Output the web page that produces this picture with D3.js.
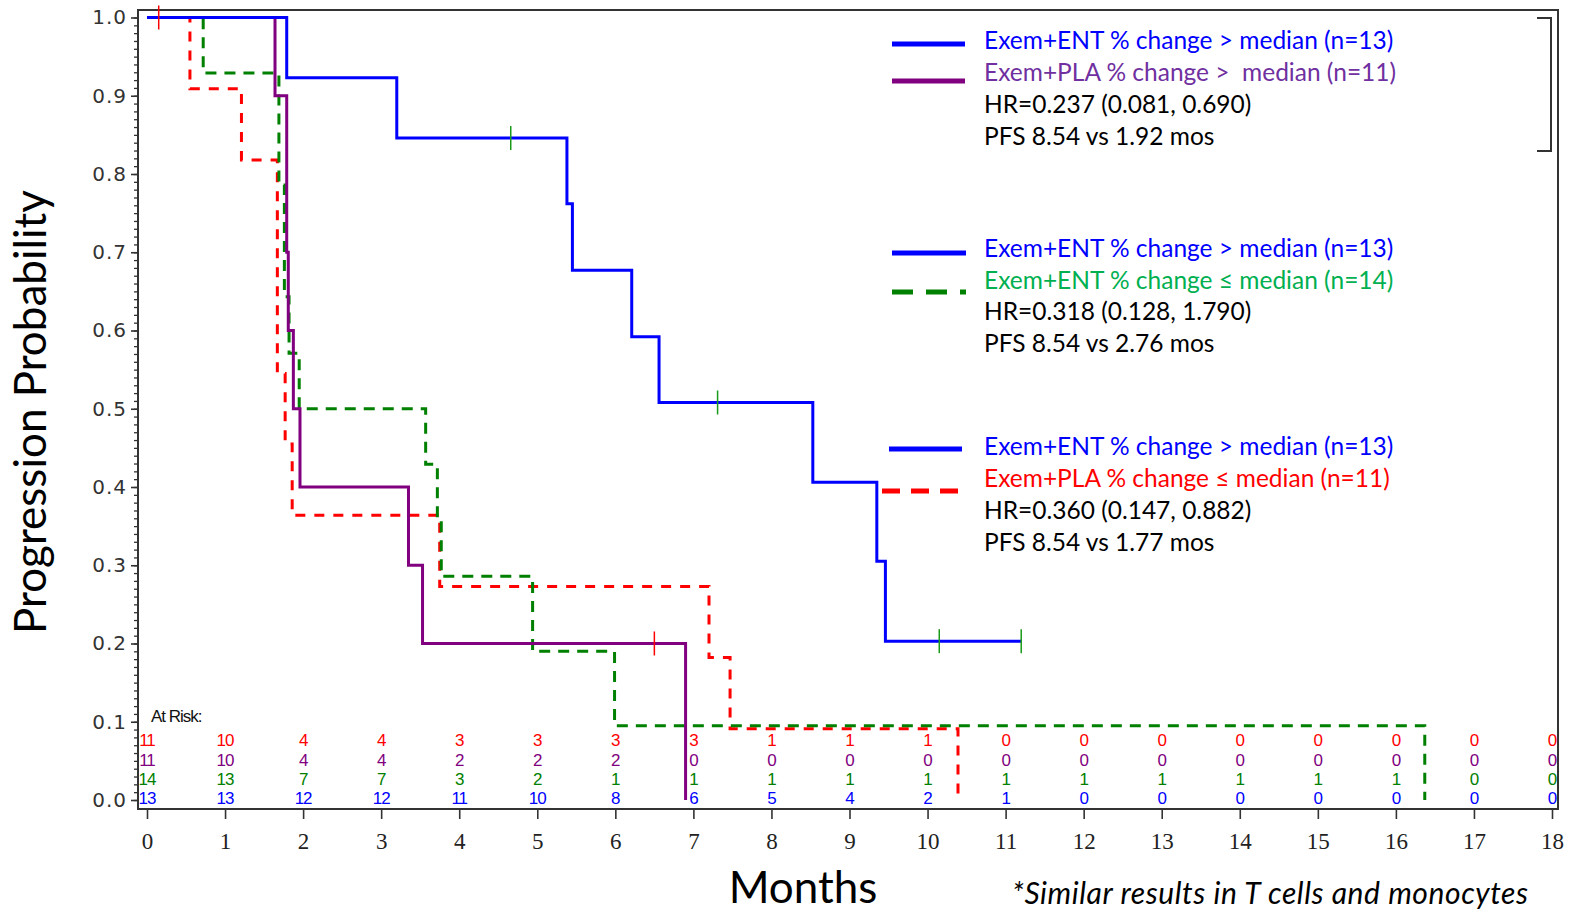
<!DOCTYPE html>
<html>
<head>
<meta charset="utf-8">
<script src="https://cdn.jsdelivr.net/npm/d3@7"></script>
<style>
  body { margin: 0; background: #fff; }
  .chart { width: 1573px; height: 911px; }
</style>
</head>
<body>
<div class="chart"></div>
<script>
// step curves (months, probability)
var entHighTimes = [0, 1.79, 3.2, 5.38, 5.45, 6.21, 6.56, 8.53, 9.35, 9.46, 11.2];
var entHighProbs = [1, 0.923, 0.846, 0.762, 0.677, 0.592, 0.508, 0.406, 0.305, 0.203, 0.203];

var plaHighTimes = [0, 1.64, 1.79, 1.81, 1.875, 1.96, 3.35, 3.53, 6.9];
var plaHighProbs = [1, 0.9, 0.7, 0.6, 0.5, 0.4, 0.3, 0.2, 0];

var entLowTimes = [0, 0.72, 1.69, 1.76, 1.82, 1.95, 3.57, 3.72, 3.77, 4.94, 5.99, 16.37];
var entLowProbs = [1, 0.929, 0.786, 0.643, 0.571, 0.5, 0.429, 0.357, 0.286, 0.19, 0.095, 0];

var plaLowTimes = [0, 0.55, 1.21, 1.67, 1.77, 1.86, 3.75, 7.2, 7.47, 10.39];
var plaLowProbs = [1, 0.909, 0.818, 0.545, 0.455, 0.364, 0.273, 0.182, 0.091, 0];

// censor marks
var entCensorTimes = [4.66, 7.31, 10.15, 11.2];
var entCensorProbs = [0.846, 0.508, 0.203, 0.203];
var plaCensorTimes = [0.15, 6.5];
var plaCensorProbs = [1, 0.2];

// numbers at risk, months 0..18
var riskPlaLow  = [11, 10, 4, 4, 3, 3, 3, 3, 1, 1, 1, 0, 0, 0, 0, 0, 0, 0, 0];
var riskPlaHigh = [11, 10, 4, 4, 2, 2, 2, 0, 0, 0, 0, 0, 0, 0, 0, 0, 0, 0, 0];
var riskEntLow  = [14, 13, 7, 7, 3, 2, 1, 1, 1, 1, 1, 1, 1, 1, 1, 1, 1, 0, 0];
var riskEntHigh = [13, 13, 12, 12, 11, 10, 8, 6, 5, 4, 2, 1, 0, 0, 0, 0, 0, 0, 0];

var xTicks = d3.range(0, 19);
var yTicks = [0, 0.1, 0.2, 0.3, 0.4, 0.5, 0.6, 0.7, 0.8, 0.9, 1.0];

var legendLabels = [
  "Exem+ENT % change > median (n=13)",
  "Exem+PLA % change >  median (n=11)",
  "HR=0.237 (0.081, 0.690)",
  "PFS 8.54 vs 1.92 mos",
  "Exem+ENT % change > median (n=13)",
  "Exem+ENT % change \u2264 median (n=14)",
  "HR=0.318 (0.128, 1.790)",
  "PFS 8.54 vs 2.76 mos",
  "Exem+ENT % change > median (n=13)",
  "Exem+PLA % change \u2264 median (n=11)",
  "HR=0.360 (0.147, 0.882)",
  "PFS 8.54 vs 1.77 mos"
];

var blue = "#0000ff", purple = "#800080", green = "#008000", red = "#ff0000";

var svg = d3.select(".chart")
  .append("svg")
  .attr("width", 1573)
  .attr("height", 911);

var frame = { left: 138, top: 10, right: 1558, bottom: 809 };

var xScale = d3.scaleLinear().domain([0, 18]).range([147, 1552]);
var yScale = d3.scaleLinear().domain([0, 1]).range([800, 17.5]);

// frame
svg.append("rect")
  .attr("x", frame.left)
  .attr("y", frame.top)
  .attr("width", frame.right - frame.left)
  .attr("height", frame.bottom - frame.top)
  .attr("fill", "none")
  .attr("stroke", "#333")
  .attr("stroke-width", 2);

// y axis, minor then major ticks
var minorAxis = svg.append("g")
  .attr("transform", `translate(${frame.left}, 0)`)
  .call(d3.axisLeft(yScale).tickValues(d3.range(0, 101).map(d => d / 100)).tickSize(4).tickFormat(""));
minorAxis.select(".domain").remove();
minorAxis.selectAll("line").attr("stroke", "#333").attr("stroke-width", 1.3);

var leftAxis = svg.append("g")
  .attr("transform", `translate(${frame.left}, 0)`)
  .call(d3.axisLeft(yScale).tickValues(yTicks).tickSize(7).tickPadding(4).tickFormat(d3.format(".1f")));
leftAxis.select(".domain").remove();
leftAxis.selectAll("line").attr("stroke", "#333").attr("stroke-width", 1.6);
leftAxis.selectAll("text")
  .attr("font-family", "DejaVu Sans")
  .attr("font-size", "20px")
  .attr("letter-spacing", "1px")
  .attr("fill", "#333");

// x axis
var bottomAxis = svg.append("g")
  .attr("transform", `translate(0, ${frame.bottom})`)
  .call(d3.axisBottom(xScale).tickValues(xTicks).tickSize(10).tickPadding(14));
bottomAxis.select(".domain").remove();
bottomAxis.selectAll("line").attr("stroke", "#333").attr("stroke-width", 1.6);
bottomAxis.selectAll("text")
  .attr("font-family", "Liberation Serif")
  .attr("font-size", "23px")
  .attr("fill", "#222");

// curves
var line = d3.line()
  .x(d => xScale(d[0]))
  .y(d => yScale(d[1]))
  .curve(d3.curveStepAfter);

var curves = [
  { t: plaLowTimes, p: plaLowProbs, color: red, dash: "10,9" },
  { t: entLowTimes, p: entLowProbs, color: green, dash: "11,8" },
  { t: plaHighTimes, p: plaHighProbs, color: purple, dash: null },
  { t: entHighTimes, p: entHighProbs, color: blue, dash: null }
];

curves.forEach(function (c) {
  svg.append("path")
    .datum(d3.zip(c.t, c.p))
    .attr("d", line)
    .attr("fill", "none")
    .attr("stroke", c.color)
    .attr("stroke-width", 3)
    .attr("stroke-dasharray", c.dash);
});

// censor ticks
var censors = [
  { t: entCensorTimes, p: entCensorProbs, color: "#1a9a1a" },
  { t: plaCensorTimes, p: plaCensorProbs, color: red }
];

censors.forEach(function (c) {
  svg.append("g").selectAll("line")
    .data(d3.zip(c.t, c.p))
    .enter()
    .append("line")
    .attr("x1", d => xScale(d[0]))
    .attr("x2", d => xScale(d[0]))
    .attr("y1", d => yScale(d[1]) - 12)
    .attr("y2", d => yScale(d[1]) + 12)
    .attr("stroke", c.color)
    .attr("stroke-width", 1.5);
});

// at risk table
svg.append("text")
  .attr("x", 151)
  .attr("y", 722)
  .attr("font-family", "Liberation Sans")
  .attr("font-size", "17px")
  .attr("letter-spacing", "-1px")
  .attr("fill", "#111")
  .text("At Risk:");

var riskRows = [
  { values: riskPlaLow, color: red, y: 740 },
  { values: riskPlaHigh, color: purple, y: 760 },
  { values: riskEntLow, color: green, y: 779 },
  { values: riskEntHigh, color: blue, y: 798 }
];

riskRows.forEach(function (r) {
  svg.append("g").selectAll("text")
    .data(r.values)
    .enter()
    .append("text")
    .attr("x", (d, i) => xScale(xTicks[i]))
    .attr("y", r.y + 6)
    .attr("text-anchor", "middle")
    .attr("font-family", "Liberation Sans")
    .attr("font-size", "17px")
    .attr("letter-spacing", "-1px")
    .attr("fill", r.color)
    .text(d => d);
});

// legend
var legendLines = [
  { x1: 892, x2: 965, y: 44, color: blue, dash: null },
  { x1: 892, x2: 965, y: 81, color: purple, dash: null },
  { x1: 892, x2: 966, y: 253, color: blue, dash: null },
  { x1: 892, x2: 966, y: 292, color: green, dash: "21,13" },
  { x1: 889, x2: 962, y: 449, color: blue, dash: null },
  { x1: 882, x2: 962, y: 491, color: red, dash: "18,11" }
];

svg.append("g").selectAll("line")
  .data(legendLines)
  .enter()
  .append("line")
  .attr("x1", d => d.x1)
  .attr("x2", d => d.x2)
  .attr("y1", d => d.y)
  .attr("y2", d => d.y)
  .attr("stroke", d => d.color)
  .attr("stroke-width", 5)
  .attr("stroke-dasharray", d => d.dash);

var legendColors = [blue, "#7030a0", "#000", "#000", blue, "#00b050", "#000", "#000", blue, red, "#000", "#000"];
var legendY = [41, 73, 105, 137, 249, 281, 312, 344, 447, 479, 511, 543];

svg.append("g").selectAll("text")
  .data(legendLabels)
  .enter()
  .append("text")
  .attr("x", 984)
  .attr("y", (d, i) => legendY[i] + 8)
  .attr("font-family", "Lato")
  .attr("font-size", "24.5px")
  .attr("fill", (d, i) => legendColors[i])
  .style("white-space", "pre")
  .text(d => d);

// bracket at the right of the first legend block
svg.append("path")
  .attr("d", "M1537,18H1551V151H1537")
  .attr("fill", "none")
  .attr("stroke", "#333")
  .attr("stroke-width", 2);

// axis titles
svg.append("text")
  .attr("transform", "translate(46, 412) rotate(-90)")
  .attr("text-anchor", "middle")
  .attr("font-family", "Lato")
  .attr("font-size", "44px")
  .attr("fill", "#000")
  .text("Progression Probability");

svg.append("text")
  .attr("x", 803)
  .attr("y", 903)
  .attr("text-anchor", "middle")
  .attr("font-family", "Lato")
  .attr("font-size", "44px")
  .attr("fill", "#000")
  .text("Months");

svg.append("text")
  .attr("x", 1012)
  .attr("y", 904)
  .attr("font-family", "Lato")
  .attr("font-style", "italic")
  .attr("font-size", "30px")
  .attr("textLength", 516)
  .attr("lengthAdjust", "spacing")
  .attr("fill", "#000")
  .text("*Similar results in T cells and monocytes");
</script>
</body>
</html>
